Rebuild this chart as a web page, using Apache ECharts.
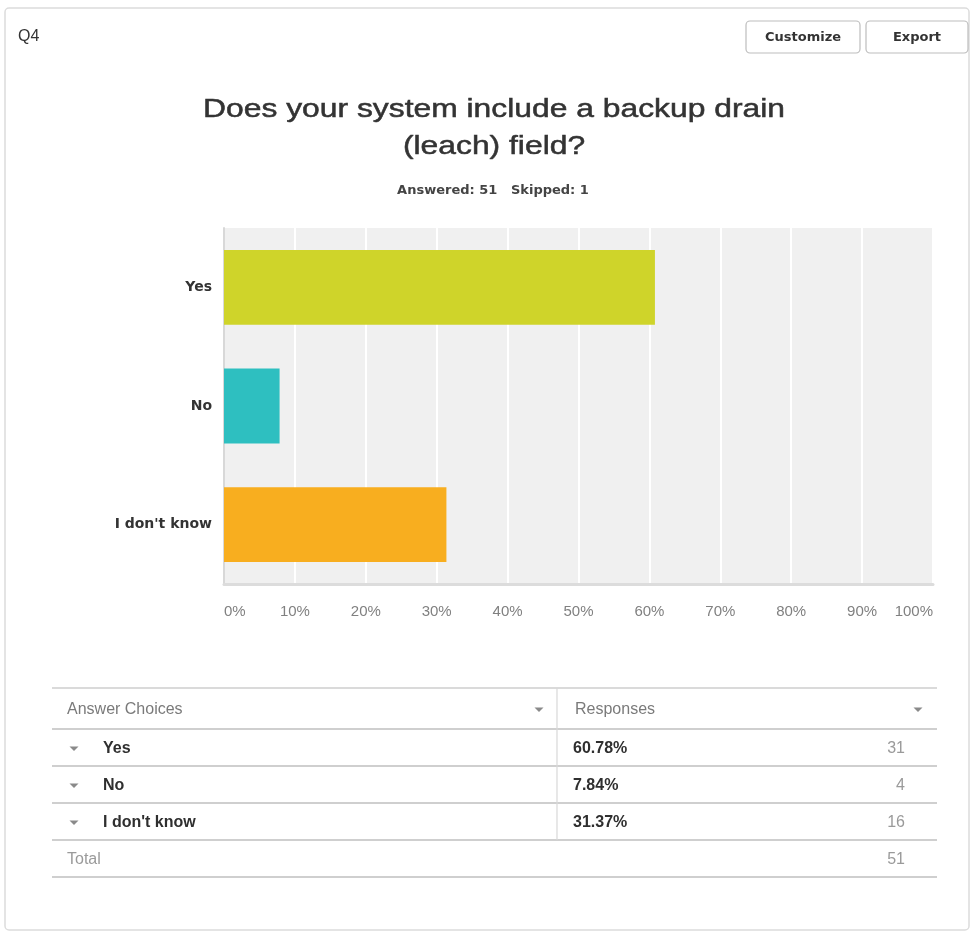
<!DOCTYPE html>
<html>
<head>
<meta charset="utf-8">
<title>Q4 – Backup drain field</title>
<script src="https://cdn.jsdelivr.net/npm/echarts@6/dist/echarts.min.js"></script>
<style>
  html, body { margin: 0; padding: 0; background: #ffffff; }
  #chart { width: 972px; height: 933px; }
</style>
</head>
<body>
<div id="chart"></div>
<script>
// Survey question Q4 results
const questionTitleLines = ['Does your system include a backup drain', '(leach) field?'];
const answeredCount = 51;
const skippedCount = 1;
const answerChoices = ['Yes', 'No', "I don't know"];
const responsePercents = [60.78, 7.84, 31.37];
const responseCounts = [31, 4, 16];
const totalResponses = 51;
const barColors = ['#cfd42a', '#2ebfc0', '#f8ae1f'];
const tickLabels = ['0%', '10%', '20%', '30%', '40%', '50%', '60%', '70%', '80%', '90%', '100%'];

const FONT = "'Liberation Sans', Arial, sans-serif";
const WIDE = "'DejaVu Sans', Verdana, sans-serif";
const chart = echarts.init(document.getElementById('chart'), null, { renderer: 'canvas' });

// text width helper, used to stretch the heading to its column width
const measureCtx = document.createElement('canvas').getContext('2d');
function textWidth(str, font) { measureCtx.font = font; return measureCtx.measureText(str).width; }

const txt = (x, y, text, o) => ({
  type: 'text', silent: true, x: x, y: y,
  style: Object.assign({ text: text, font: '16px ' + FONT, fill: '#333', verticalAlign: 'middle' }, o || {})
});
const hline = (y, x1, x2, c, w) => ({
  type: 'line', silent: true,
  shape: { x1: x1, y1: y, x2: x2, y2: y },
  style: { stroke: c, lineWidth: w }
});
const caret = (x, y) => ({
  type: 'polygon', silent: true,
  shape: { points: [[x - 4.5, y - 2], [x + 4.5, y - 2], [x, y + 2.5]] },
  style: { fill: '#8a8a8a' }
});

// --- heading (medium weight: regular face with a thin outline) ---
const titleFont = '26px ' + FONT;
const titleScale = 582 / textWidth(questionTitleLines[0], titleFont);
const headingEls = questionTitleLines.map((s, i) => ({
  type: 'text', silent: true, x: 494, y: 110 + i * 37, scaleX: titleScale,
  style: {
    text: s, font: titleFont, fill: '#333', stroke: '#333', lineWidth: 0.5,
    align: 'center', verticalAlign: 'middle'
  }
}));
headingEls.push({
  type: 'text', silent: true, x: 493, y: 191,
  style: {
    text: 'Answered: ' + answeredCount + '   Skipped: ' + skippedCount,
    font: 'bold 13px ' + WIDE, fill: '#444', align: 'center', verticalAlign: 'middle'
  }
});

// --- table beneath the chart, built from the answer arrays ---
const tL = 52, tR = 937, tSplit = 557;
const ruleY = [688, 729, 766, 803, 840, 877];
const tableEls = [];
ruleY.forEach((y, i) => tableEls.push(hline(y, tL, tR, i === 0 ? '#dadada' : '#cfcfcf', 2)));
tableEls.push({
  type: 'line', silent: true,
  shape: { x1: tSplit, y1: ruleY[0], x2: tSplit, y2: ruleY[4] },
  style: { stroke: '#d8d8d8', lineWidth: 1.2 }
});
const mid = i => (ruleY[i] + ruleY[i + 1]) / 2 + 1;
tableEls.push(txt(67, mid(0), 'Answer Choices', { fill: '#7a7a7a' }));
tableEls.push(caret(539, mid(0)));
tableEls.push(txt(575, mid(0), 'Responses', { fill: '#7a7a7a' }));
tableEls.push(caret(918, mid(0)));
answerChoices.forEach((name, i) => {
  const y = mid(i + 1);
  tableEls.push(caret(74, y));
  tableEls.push(txt(103, y, name, { font: 'bold 16px ' + FONT, fill: '#2f2f2f' }));
  tableEls.push(txt(573, y, responsePercents[i].toFixed(2) + '%', { font: 'bold 16px ' + FONT, fill: '#2f2f2f' }));
  tableEls.push(txt(905, y, String(responseCounts[i]), { fill: '#9a9a9a', align: 'right' }));
});
tableEls.push(txt(67, mid(4), 'Total', { fill: '#9a9a9a' }));
tableEls.push(txt(905, mid(4), String(totalResponses), { fill: '#9a9a9a', align: 'right' }));

const option = {
  backgroundColor: '#ffffff',
  animation: false,
  textStyle: { fontFamily: FONT },
  grid: {
    left: 224, right: 39, top: 228, bottom: 349,
    show: true, backgroundColor: '#f0f0f0', borderWidth: 0, containLabel: false
  },
  xAxis: {
    type: 'value', min: 0, max: 100, interval: 10,
    axisLine: { show: true, lineStyle: { color: '#dcdcdc', width: 3 } },
    axisTick: { show: false },
    splitLine: { show: true, lineStyle: { color: '#ffffff', width: 2 } },
    axisLabel: {
      color: '#808080', fontSize: 15, margin: 20, fontFamily: FONT,
      alignMinLabel: 'left', alignMaxLabel: 'right',
      formatter: v => tickLabels[Math.round(v / 10)]
    }
  },
  yAxis: {
    type: 'category', data: answerChoices, inverse: true,
    axisLine: { show: true, lineStyle: { color: '#d8d8d8', width: 2 } },
    axisTick: { show: false },
    splitLine: { show: false },
    axisLabel: { color: '#333', fontSize: 14, fontWeight: 'bold', margin: 12, fontFamily: WIDE }
  },
  series: [{
    type: 'bar',
    data: responsePercents.map((v, i) => ({ value: v, itemStyle: { color: barColors[i] } })),
    barWidth: '63%',
    z: 3
  }],
  graphic: [
    // card frame
    {
      type: 'rect', silent: true, z: -10,
      shape: { x: 5, y: 8, width: 964, height: 922, r: 4 },
      style: { fill: '#ffffff', stroke: '#dcdcdc', lineWidth: 1.5 }
    },
    txt(18, 37, 'Q4', { font: '16px ' + FONT, fill: '#333' }),
    // header buttons
    {
      type: 'rect', silent: true,
      shape: { x: 746, y: 21, width: 114, height: 32, r: 4 },
      style: { fill: '#ffffff', stroke: '#bdbdbd', lineWidth: 1.2 }
    },
    txt(803, 38, 'Customize', { font: 'bold 13px ' + WIDE, fill: '#333', align: 'center' }),
    {
      type: 'rect', silent: true,
      shape: { x: 866, y: 21, width: 102, height: 32, r: 4 },
      style: { fill: '#ffffff', stroke: '#bdbdbd', lineWidth: 1.2 }
    },
    txt(917, 38, 'Export', { font: 'bold 13px ' + WIDE, fill: '#333', align: 'center' })
  ].concat(headingEls, tableEls)
};

chart.setOption(option);
</script>
</body>
</html>
